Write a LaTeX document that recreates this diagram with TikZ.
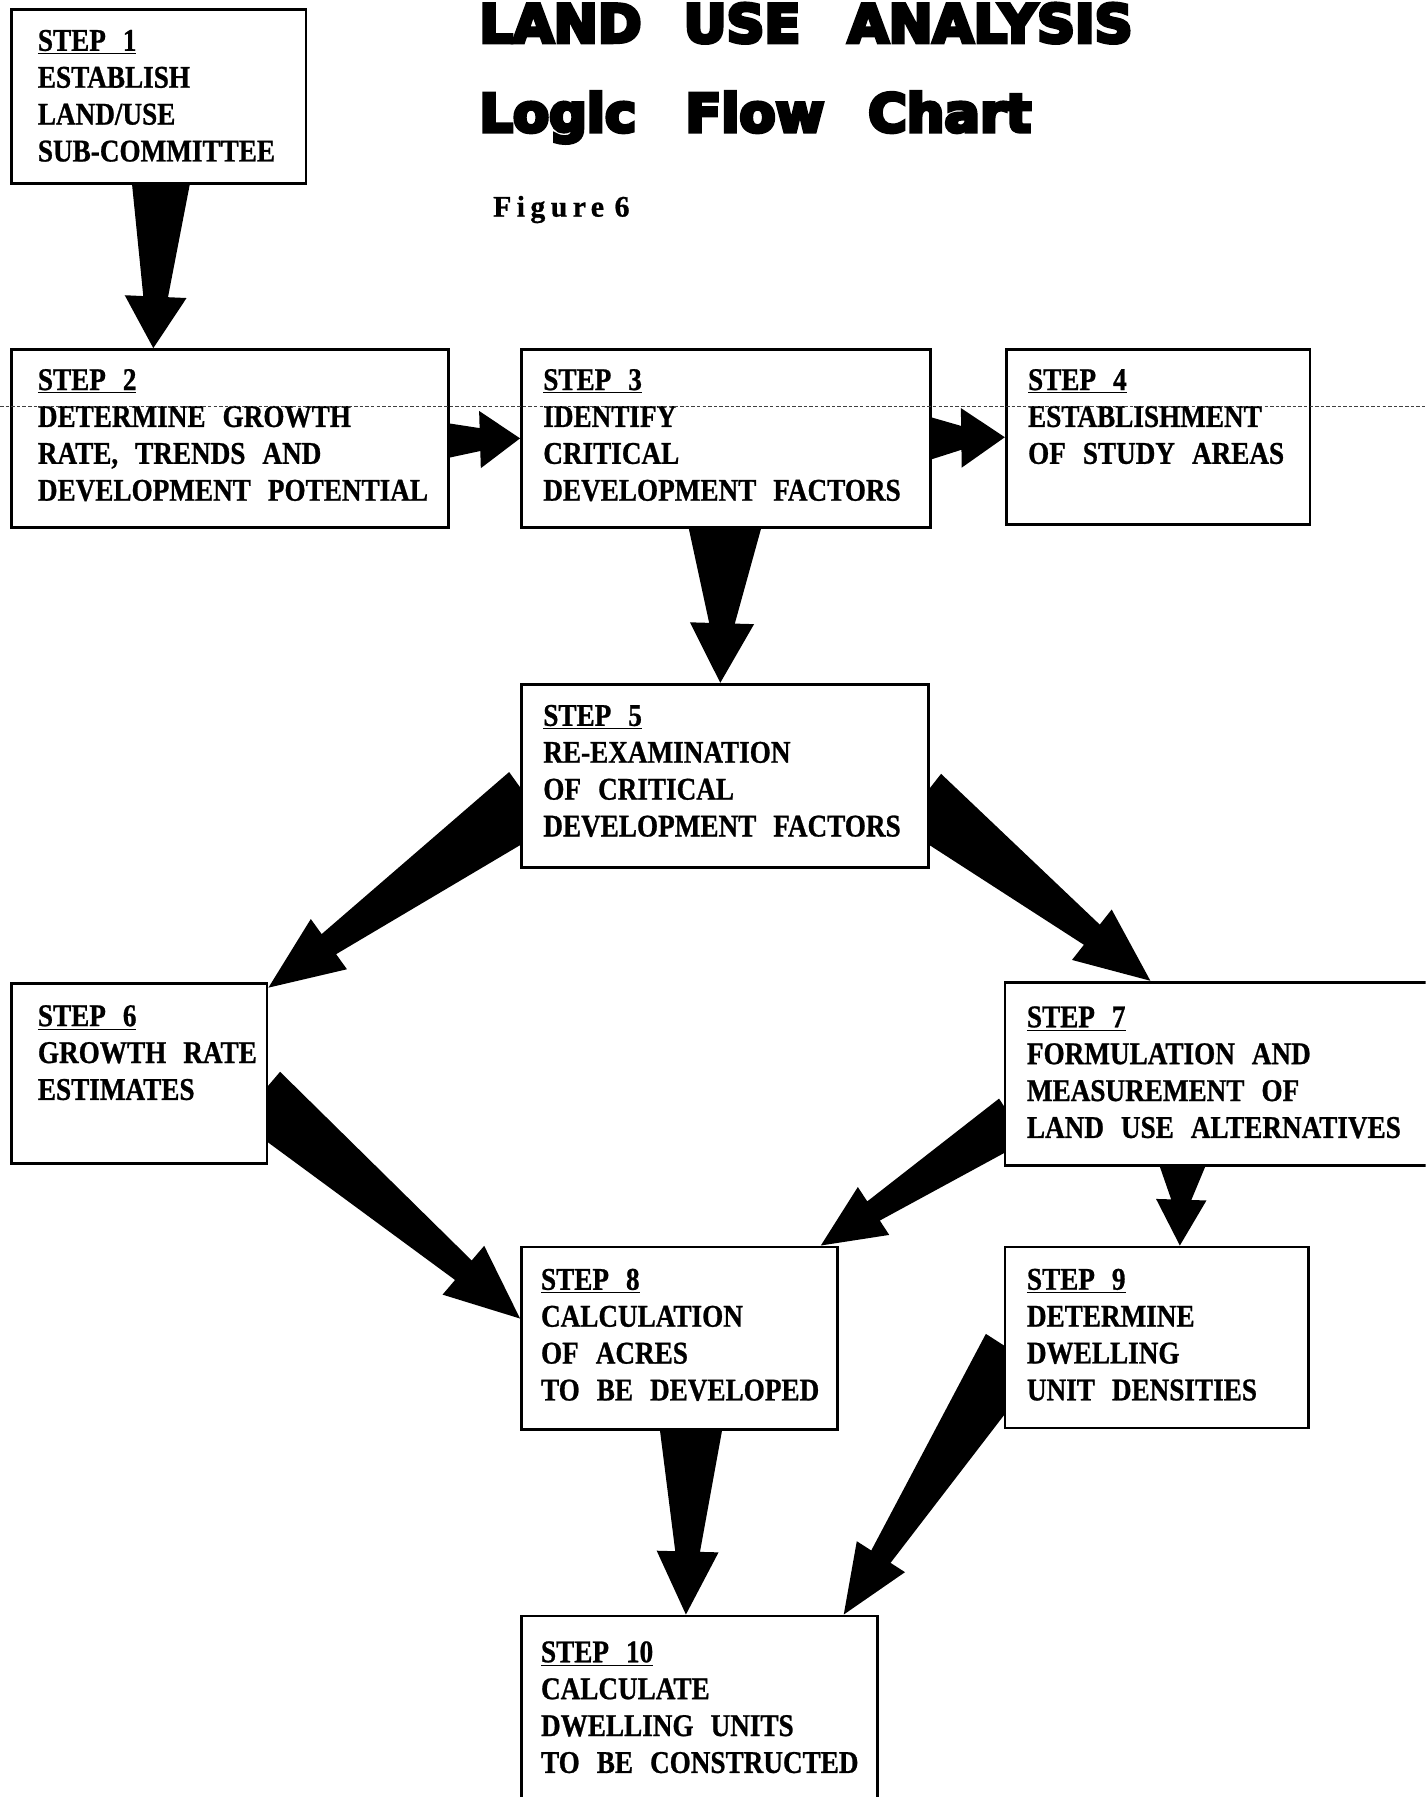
\documentclass[tikz,border=0pt]{standalone}
\usepackage{fontspec}
\setmainfont{Liberation Serif}
\newfontfamily\typefont[FakeStretch=0.86, WordSpace=2.5, BoldFeatures={FakeBold=0.8}]{Liberation Serif}
\newfontfamily\titlefont[BoldFeatures={FakeBold=7}]{DejaVu Sans}
\newfontfamily\figfont[LetterSpace=18, BoldFeatures={FakeBold=0.8}]{Liberation Serif}
\usetikzlibrary{calc,fit,backgrounds}

% one picture pixel
\def\px{0.6524pt}

% Fat wedge arrow: start, tip, start half width, head half width, head length
\newcommand{\fatarrow}[5]{%
  \coordinate (fa-s) at #1;
  \coordinate (fa-t) at #2;
  \coordinate (fa-h) at ($(fa-t)!#5*\px!(fa-s)$);
  \fill ($(fa-s)!#3*\px!90:(fa-t)$)
     -- ($(fa-h)!0.4*#4*\px!90:(fa-t)$)
     -- ($(fa-h)!#4*\px!90:(fa-t)$)
     -- (fa-t)
     -- ($(fa-h)!#4*\px!-90:(fa-t)$)
     -- ($(fa-h)!0.4*#4*\px!-90:(fa-t)$)
     -- ($(fa-s)!#3*\px!-90:(fa-t)$) -- cycle;
}

\begin{document}
\begin{tikzpicture}[x=0.02293cm, y=-0.02293cm,
    stepbox/.style={draw, fill=white, line width=1.6pt, inner sep=0pt},
    steptext/.style={anchor=north west, inner sep=0pt, align=left,
      font=\typefont\bfseries\fontsize{18}{21}\selectfont},
    scanline/.style={line width=0.6pt, dash pattern=on 2pt off 1.2pt, black!75}]

    % Page size
    \useasboundingbox (0,0) rectangle (1244,1568);
    \clip (0,0) rectangle (1244,1568);

    % Title
    \node[anchor=base west, inner sep=0pt, font=\titlefont\bfseries\fontsize{30}{30}\selectfont]
      (title) at (418,37) {LAND\hspace{24pt}USE\hspace{27pt}ANALYSIS};
    \node[anchor=base west, inner sep=0pt, font=\titlefont\bfseries\fontsize{30}{30}\selectfont]
      (subtitle) at (418,115) {Logic\hspace{28pt}Flow\hspace{25pt}Chart};

    % Figure number
    \node[anchor=base west, inner sep=0pt, font=\figfont\bfseries\fontsize{17}{17}\selectfont]
      (fig) at (430,189) {Figure\hspace{6pt}6};

    % Boxes of the ten steps
    \node[stepbox, fit={(10,8) (267,160)}] (s1) {};
    \node[stepbox, fit={(10,305) (391,460)}] (s2) {};
    \node[stepbox, fit={(455,305) (812,460)}] (s3) {};
    \node[stepbox, fit={(878,305) (1143,458)}] (s4) {};
    \node[stepbox, fit={(455,597) (810,757)}] (s5) {};
    \node[stepbox, fit={(10,858) (233,1015)}] (s6) {};
    \node[stepbox, fit={(877,857) (1262,1017)}] (s7) {};
    \node[stepbox, fit={(455,1088) (731,1247)}] (s8) {};
    \node[stepbox, fit={(877,1088) (1142,1246)}] (s9) {};
    \node[stepbox, fit={(455,1410) (766,1592)}] (s10) {};

    % Texts of the steps
    \node[steptext] (t1) at ($(s1.north west)+(24,19)$)
      {\underline{STEP 1}\\ESTABLISH\\LAND/USE\\SUB-COMMITTEE};
    \node[steptext] (t2) at ($(s2.north west)+(24,18)$)
      {\underline{STEP 2}\\DETERMINE GROWTH\\RATE, TRENDS AND\\DEVELOPMENT POTENTIAL};
    \node[steptext] (t3) at ($(s3.north west)+(20,18)$)
      {\underline{STEP 3}\\IDENTIFY\\CRITICAL\\DEVELOPMENT FACTORS};
    \node[steptext] (t4) at ($(s4.north west)+(20,18)$)
      {\underline{STEP 4}\\ESTABLISHMENT\\OF STUDY AREAS};
    \node[steptext] (t5) at ($(s5.north west)+(20,19)$)
      {\underline{STEP 5}\\RE-EXAMINATION\\OF CRITICAL\\DEVELOPMENT FACTORS};
    \node[steptext] (t6) at ($(s6.north west)+(24,20)$)
      {\underline{STEP 6}\\GROWTH RATE\\ESTIMATES};
    \node[steptext] (t7) at ($(s7.north west)+(20,22)$)
      {\underline{STEP 7}\\FORMULATION AND\\MEASUREMENT OF\\LAND USE ALTERNATIVES};
    \node[steptext] (t8) at ($(s8.north west)+(18,20)$)
      {\underline{STEP 8}\\CALCULATION\\OF ACRES\\TO BE DEVELOPED};
    \node[steptext] (t9) at ($(s9.north west)+(20,20)$)
      {\underline{STEP 9}\\DETERMINE\\DWELLING\\UNIT DENSITIES};
    \node[steptext] (t10) at ($(s10.north west)+(18,23)$)
      {\underline{STEP 10}\\CALCULATE\\DWELLING UNITS\\TO BE CONSTRUCTED};

    % Fat arrows, behind the boxes
    \begin{scope}[on background layer]
      \fatarrow{($(s1.south)+(2,-6)$)}{($(s2.north west)+(125,0)$)}{26}{27}{45}
      \fatarrow{($(s2.east)+(-6,2)$)}{(s3.west)}{16}{25}{35}
      \fatarrow{($(s3.east)+(-6,0)$)}{(s4.west)}{20}{26}{38}
      \fatarrow{($(s3.south)+(-1,-6)$)}{($(s5.north)+(-4,0)$)}{33}{28}{52}
      \fatarrow{($(s5.west)+(8,21)$)}{($(s6.north east)+(0,5)$)}{30}{27}{65}
      \fatarrow{($(s5.east)+(-8,21)$)}{($(s7.north west)+(128,0)$)}{29}{28}{65}
      \fatarrow{($(s6.east)+(-8,20)$)}{($(s8.west)+(0,-17)$)}{28}{28}{65}
      \fatarrow{($(s7.west)+(8,40)$)}{($(s8.north east)+(-16,0)$)}{22}{25}{55}
      \fatarrow{($(s7.south west)+(156,-6)$)}{($(s9.north)+(20,0)$)}{22}{22}{40}
      \fatarrow{($(s8.south)+(10,-6)$)}{($(s10.north)+(-12,0)$)}{28}{27}{55}
      \fatarrow{($(s9.west)+(8,12)$)}{($(s10.north east)+(-31,0)$)}{28}{25}{60}
    \end{scope}

    % Scan line across the page
    \draw[scanline] (0,355) -- (1244,355);

\end{tikzpicture}
\end{document}
